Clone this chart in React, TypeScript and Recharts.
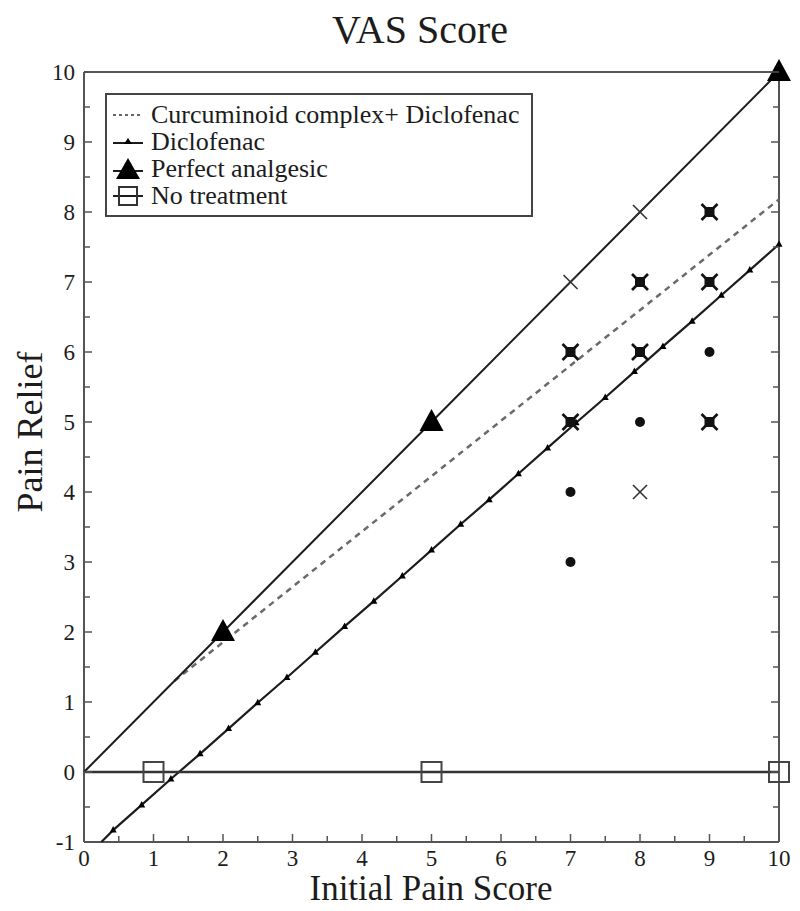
// VAS Score: pain relief vs initial pain score — serif, boxed frame, inward ticks

import { ComposedChart, Scatter, XAxis, YAxis, Legend, Label } from 'recharts'

const FONT = "'Liberation Serif', 'Times New Roman', serif"
const INK = '#1c1c1c'
const FRAME = '#555'

// axis ticks (majors carry labels, halves are minor marks)
const X_TICKS = [0, 0.5, 1, 1.5, 2, 2.5, 3, 3.5, 4, 4.5, 5, 5.5, 6, 6.5, 7, 7.5, 8, 8.5, 9, 9.5, 10]
const Y_TICKS = [-1, -0.5, 0, 0.5, 1, 1.5, 2, 2.5, 3, 3.5, 4, 4.5, 5, 5.5, 6, 6.5, 7, 7.5, 8, 8.5, 9, 9.5, 10]

// Perfect analgesic: y = x
const perfectX = [0, 2, 5, 10]
const perfectY = [0, 2, 5, 10]

// Curcuminoid complex + Diclofenac (dashed)
const comboX = [1.3, 10]
const comboY = [1.3, 8.18]

// Diclofenac (small triangles along the line)
const dicloX = [0.25, 0.42, 0.83, 1.25, 1.67, 2.08, 2.5, 2.92, 3.33, 3.75, 4.17, 4.58, 5.0,
  5.42, 5.83, 6.25, 6.67, 7.08, 7.5, 7.92, 8.33, 8.75, 9.17, 9.58, 10]
const dicloY = [-1, -0.83, -0.47, -0.1, 0.26, 0.62, 0.99, 1.35, 1.71, 2.08, 2.44, 2.8, 3.17,
  3.54, 3.89, 4.26, 4.63, 4.99, 5.35, 5.72, 6.08, 6.44, 6.81, 7.17, 7.54]

// No treatment
const noneX = [0, 1, 5, 10]
const noneY = [0, 0, 0, 0]

// individual patient marks
const crossX = [7, 8, 8]
const crossY = [7, 8, 4]
const dotX = [7, 7, 8, 9]
const dotY = [4, 3, 5, 6]
const boldX = [7, 7, 8, 8, 9, 9, 9]
const boldY = [6, 5, 7, 6, 8, 7, 5]

const LEGEND_NAMES = [
  'Curcuminoid complex+ Diclofenac',
  'Diclofenac',
  'Perfect analgesic',
  'No treatment',
]

const pts = (xs: number[], ys: number[]) => xs.map((x, i) => ({ x, y: ys[i] }))

const perfect = pts(perfectX, perfectY)
const combo = pts(comboX, comboY)
const diclo = pts(dicloX, dicloY)
const none = pts(noneX, noneY)
const crosses = pts(crossX, crossY)
const dots = pts(dotX, dotY)
const bolds = pts(boldX, boldY)

// ── marker shapes ──
const Empty = () => <g />

function BigTri({ cx, cy }: any) {
  return <path d={`M${cx},${cy - 13} L${cx + 12},${cy + 9} L${cx - 12},${cy + 9} Z`} fill="#000" />
}
function SmallTri({ cx, cy }: any) {
  return <path d={`M${cx},${cy - 4} L${cx + 3.5},${cy + 2.5} L${cx - 3.5},${cy + 2.5} Z`} fill="#000" />
}
function OpenSquare({ cx, cy }: any) {
  return <rect x={cx - 10} y={cy - 10} width={20} height={20} fill="none" stroke="#444" strokeWidth={2} />
}
function Cross({ cx, cy }: any) {
  return (
    <g stroke="#333" strokeWidth={1.6}>
      <line x1={cx - 7} y1={cy - 7} x2={cx + 7} y2={cy + 7} />
      <line x1={cx - 7} y1={cy + 7} x2={cx + 7} y2={cy - 7} />
    </g>
  )
}
function Dot({ cx, cy }: any) {
  return <circle cx={cx} cy={cy} r={5} fill="#111" />
}
function BoldCross({ cx, cy }: any) {
  return (
    <g>
      <g stroke="#111" strokeWidth={2.6}>
        <line x1={cx - 8} y1={cy - 8} x2={cx + 8} y2={cy + 8} />
        <line x1={cx - 8} y1={cy + 8} x2={cx + 8} y2={cy - 8} />
      </g>
      <rect x={cx - 5} y={cy - 5} width={10} height={10} fill="#111" />
    </g>
  )
}

// first point of a polyline carries no marker
const skipFirst = (series: { x: number; y: number }[], Mark: any) => (p: any) => {
  const pl = p.payload ?? {}
  if (pl.x === series[0].x && pl.y === series[0].y) return <g />
  return <Mark cx={p.cx} cy={p.cy} />
}

// ── inward ticks, drawn by hand so they sit inside the frame ──
function BottomTick({ x, y, payload }: any) {
  const v = payload.value
  const major = Number.isInteger(v)
  return (
    <g>
      <line x1={x} x2={x} y1={y} y2={y - (major ? 8 : 6)} stroke={FRAME} strokeWidth={1.5} />
      {major && (
        <text x={x} y={y + 24} textAnchor="middle" fontSize={23} fontFamily={FONT} fill={INK}>
          {v}
        </text>
      )}
    </g>
  )
}
function TopTick({ x, y, payload }: any) {
  const major = Number.isInteger(payload.value)
  return <line x1={x} x2={x} y1={y} y2={y + (major ? 8 : 6)} stroke={FRAME} strokeWidth={1.5} />
}
function LeftTick({ x, y, payload }: any) {
  const v = payload.value
  const major = Number.isInteger(v)
  return (
    <g>
      <line x1={x} x2={x + (major ? 8 : 6)} y1={y} y2={y} stroke={FRAME} strokeWidth={1.5} />
      {major && (
        <text x={x - 9} y={y + 8} textAnchor="end" fontSize={23} fontFamily={FONT} fill={INK}>
          {v}
        </text>
      )}
    </g>
  )
}
function RightTick({ x, y, payload }: any) {
  const major = Number.isInteger(payload.value)
  return <line x1={x} x2={x - (major ? 8 : 6)} y1={y} y2={y} stroke={FRAME} strokeWidth={1.5} />
}

// ── legend box ──
function LegendIcon({ i }: { i: number }) {
  return (
    <svg width={34} height={26} style={{ display: 'block' }}>
      {i === 0 && <line x1={2} x2={32} y1={13} y2={13} stroke="#666" strokeWidth={2} strokeDasharray="3 3" />}
      {i === 1 && (
        <g>
          <line x1={2} x2={32} y1={14} y2={14} stroke={INK} strokeWidth={2} />
          <path d="M17,9 L21,15 L13,15 Z" fill="#000" />
        </g>
      )}
      {i === 2 && (
        <g>
          <line x1={2} x2={32} y1={15} y2={15} stroke={INK} strokeWidth={2} />
          <path d="M17,2 L29,23 L5,23 Z" fill="#000" />
        </g>
      )}
      {i === 3 && (
        <g>
          <line x1={2} x2={32} y1={13} y2={13} stroke={INK} strokeWidth={2} />
          <rect x={8} y={4} width={18} height={18} fill="none" stroke="#333" strokeWidth={2} />
        </g>
      )}
    </svg>
  )
}

function LegendBox() {
  return (
    <div
      style={{
        border: '2px solid #444',
        background: '#fff',
        padding: '6px 8px 6px 4px',
        fontFamily: FONT,
        fontSize: 26,
        color: INK,
        boxSizing: 'border-box',
        width: 428,
      }}
    >
      {LEGEND_NAMES.map((name, i) => (
        <div key={name} style={{ display: 'flex', alignItems: 'center', height: 27, whiteSpace: 'nowrap' }}>
          <LegendIcon i={i} />
          <span style={{ marginLeft: 6, lineHeight: '27px' }}>{name}</span>
        </div>
      ))}
    </div>
  )
}

export default function App() {
  // negative margin cancels the body's 8px so chart coords = page coords
  return (
    <div style={{ position: 'relative', width: 800, height: 911, margin: -8, background: '#fff' }}>
      <div
        style={{
          position: 'absolute', left: 0, width: 840, top: 10, textAlign: 'center',
          fontFamily: FONT, fontSize: 40, lineHeight: '40px', color: INK,
        }}
      >
        VAS Score
      </div>
      <ComposedChart
        width={800}
        height={911}
        margin={{ top: 71, right: 20, bottom: 68, left: 83 }}
      >
        <XAxis
          type="number" dataKey="x" domain={[0, 10]} ticks={X_TICKS} interval={0}
          height={1} tickSize={0} tickMargin={0} tickLine={false}
          axisLine={{ stroke: FRAME, strokeWidth: 2 }} tick={<BottomTick />}
        >
          <Label
            content={() => (
              <text x={431} y={900} textAnchor="middle" fontSize={35} fontFamily={FONT} fill={INK}>
                Initial Pain Score
              </text>
            )}
          />
        </XAxis>
        <XAxis
          xAxisId="top" orientation="top" type="number" domain={[0, 10]} allowDataOverflow
          ticks={X_TICKS} interval={0} height={1} tickSize={0} tickMargin={0} tickLine={false}
          axisLine={{ stroke: FRAME, strokeWidth: 2 }} tick={<TopTick />}
        />
        <YAxis
          type="number" dataKey="y" domain={[-1, 10]} ticks={Y_TICKS} interval={0}
          width={1} tickSize={0} tickMargin={0} tickLine={false}
          axisLine={{ stroke: FRAME, strokeWidth: 2 }} tick={<LeftTick />}
        >
          <Label
            content={() => (
              <text
                x={30} y={432} textAnchor="middle" dominantBaseline="central"
                transform="rotate(-90, 30, 432)" fontSize={36} fontFamily={FONT} fill={INK}
              >
                Pain Relief
              </text>
            )}
          />
        </YAxis>
        <YAxis
          yAxisId="right" orientation="right" type="number" domain={[-1, 10]} allowDataOverflow
          ticks={Y_TICKS} interval={0} width={1} tickSize={0} tickMargin={0} tickLine={false}
          axisLine={{ stroke: FRAME, strokeWidth: 2 }} tick={<RightTick />}
        />

        <Legend
          layout="vertical" align="center" verticalAlign="middle"
          wrapperStyle={{ left: 105, top: 93, width: 428 }}
          content={() => <LegendBox />}
        />

        <Scatter
          name="Curcuminoid complex+ Diclofenac" data={combo} isAnimationActive={false}
          line={{ stroke: '#6a6a6a', strokeWidth: 2.5, strokeDasharray: '6 5' }} lineType="joint"
          shape={Empty}
        />
        <Scatter
          name="Diclofenac" data={diclo} isAnimationActive={false}
          line={{ stroke: INK, strokeWidth: 2.2 }} lineType="joint"
          shape={skipFirst(diclo, SmallTri)}
        />
        <Scatter
          name="Perfect analgesic" data={perfect} isAnimationActive={false}
          line={{ stroke: INK, strokeWidth: 2 }} lineType="joint"
          shape={skipFirst(perfect, BigTri)}
        />
        <Scatter
          name="No treatment" data={none} isAnimationActive={false}
          line={{ stroke: '#333', strokeWidth: 2.5 }} lineType="joint"
          shape={skipFirst(none, OpenSquare)}
        />
        <Scatter name="cross" data={crosses} isAnimationActive={false} shape={Cross} />
        <Scatter name="dot" data={dots} isAnimationActive={false} shape={Dot} />
        <Scatter name="bold" data={bolds} isAnimationActive={false} shape={BoldCross} />
      </ComposedChart>
    </div>
  )
}
